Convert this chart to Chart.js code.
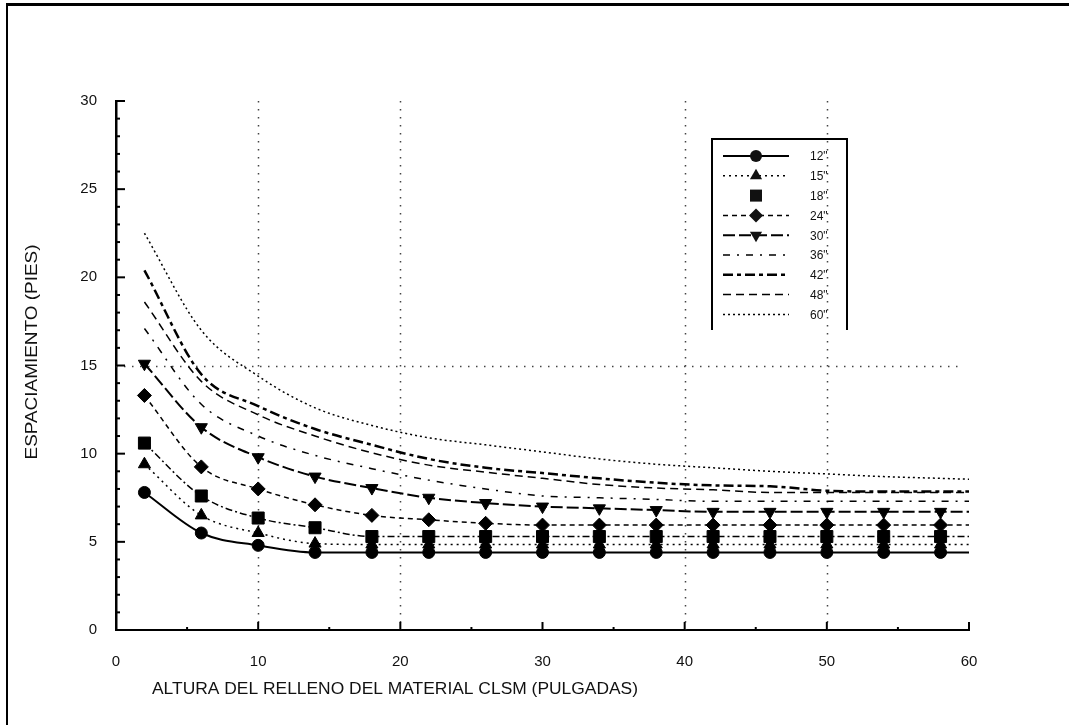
<!DOCTYPE html>
<html>
<head>
<meta charset="utf-8">
<script src="https://cdn.jsdelivr.net/npm/chart.js@4/dist/chart.umd.min.js"></script>
<style>
  html, body { margin: 0; padding: 0; background: #fff; }
  #wrap { width: 1069px; height: 725px; position: relative; }
</style>
</head>
<body>
<div id="wrap"><canvas id="grafico" width="1069" height="725"></canvas></div>
<script>
// altura del relleno (pulgadas) - marcadores cada 4", la linea llega a 60
const alturas = [2, 6, 10, 14, 18, 22, 26, 30, 34, 38, 42, 46, 50, 54, 58, 60];

// espaciamiento (pies) por diametro de tubo
const esp12 = [7.8, 5.5, 4.8, 4.4, 4.4, 4.4, 4.4, 4.4, 4.4, 4.4, 4.4, 4.4, 4.4, 4.4, 4.4, 4.4];
const esp15 = [9.4, 6.5, 5.5, 4.9, 4.85, 4.85, 4.85, 4.85, 4.85, 4.85, 4.85, 4.85, 4.85, 4.85, 4.85, 4.85];
const esp18 = [10.6, 7.6, 6.35, 5.8, 5.3, 5.3, 5.3, 5.3, 5.3, 5.3, 5.3, 5.3, 5.3, 5.3, 5.3, 5.3];
const esp24 = [13.3, 9.25, 8.0, 7.1, 6.5, 6.25, 6.05, 5.95, 5.95, 5.95, 5.95, 5.95, 5.95, 5.95, 5.95, 5.95];
const esp30 = [15.1, 11.5, 9.8, 8.7, 8.05, 7.5, 7.2, 7.0, 6.9, 6.8, 6.7, 6.7, 6.7, 6.7, 6.7, 6.7];
const esp36 = [17.1, 12.8, 11.0, 9.9, 9.15, 8.5, 8.0, 7.6, 7.5, 7.4, 7.3, 7.3, 7.3, 7.3, 7.3, 7.3];
const esp42 = [20.4, 14.5, 12.7, 11.4, 10.5, 9.7, 9.2, 8.9, 8.6, 8.35, 8.2, 8.15, 7.9, 7.85, 7.85, 7.85];
const esp48 = [18.6, 14.1, 12.2, 11.0, 10.05, 9.35, 8.95, 8.6, 8.25, 8.05, 7.95, 7.8, 7.8, 7.8, 7.8, 7.8];
const esp60 = [22.5, 17.0, 14.4, 12.6, 11.6, 10.9, 10.5, 10.1, 9.7, 9.4, 9.2, 9.0, 8.85, 8.7, 8.6, 8.55];

const ticksX = [0, 10, 20, 30, 40, 50, 60];
const ticksY = [0, 5, 10, 15, 20, 25, 30];
const rejillaX = [10, 20, 40, 50];
const rejillaY = [15];

const fuente = '"Liberation Sans", Arial, sans-serif';

function serie(label, valores, estilo) {
  return Object.assign({
    label: label,
    data: alturas.map((x, i) => ({ x: x, y: valores[i] })),
    borderColor: '#000',
    backgroundColor: '#000',
    borderWidth: 1.5,
    fill: false,
    cubicInterpolationMode: 'monotone',
    marcador: 0,
    pointRadius: c => (alturas[c.dataIndex] === 60 ? 0 : c.dataset.marcador),
    pointHoverRadius: 0,
    pointBorderWidth: 1
  }, estilo);
}

const datasets = [
  serie('12"', esp12, { borderWidth: 2, borderDash: [], pointStyle: 'circle', marcador: 6 }),
  serie('15"', esp15, { borderDash: [2, 4], pointStyle: 'triangle', marcador: 7 }),
  serie('18"', esp18, { borderDash: [7, 3, 2, 3], pointStyle: 'rect', marcador: 8.5, lineaLeyenda: false }),
  serie('24"', esp24, { borderDash: [5, 4], pointStyle: 'rectRot', marcador: 7 }),
  serie('30"', esp30, { borderWidth: 2, borderDash: [12, 4], pointStyle: 'triangle', pointRotation: 180, marcador: 7 }),
  serie('36"', esp36, { borderDash: [7, 7, 2, 7], pointStyle: 'circle' }),
  serie('42"', esp42, { borderWidth: 2.5, borderDash: [10, 4, 4, 4], pointStyle: 'circle' }),
  serie('48"', esp48, { borderDash: [8, 5], pointStyle: 'circle' }),
  serie('60"', esp60, { borderDash: [2, 3], pointStyle: 'circle' })
];

function marca(ctx, estilo, rot, r, x, y) {
  ctx.save();
  ctx.translate(x, y);
  ctx.rotate((rot || 0) * Math.PI / 180);
  ctx.setLineDash([]);
  ctx.beginPath();
  if (estilo === 'circle') {
    ctx.arc(0, 0, r, 0, Math.PI * 2);
  } else if (estilo === 'triangle') {
    ctx.moveTo(0, -r);
    ctx.lineTo(r * 0.87, r * 0.5);
    ctx.lineTo(-r * 0.87, r * 0.5);
    ctx.closePath();
  } else if (estilo === 'rect') {
    const s = r * Math.SQRT1_2;
    ctx.rect(-s, -s, 2 * s, 2 * s);
  } else if (estilo === 'rectRot') {
    ctx.moveTo(0, -r); ctx.lineTo(r, 0); ctx.lineTo(0, r); ctx.lineTo(-r, 0);
    ctx.closePath();
  }
  ctx.fill();
  ctx.restore();
}

// texto estirado a lo ancho que ocupa en el original
function textoAncho(ctx, txt, cx, cy, ancho, rot) {
  ctx.save();
  ctx.translate(cx, cy);
  if (rot) ctx.rotate(rot);
  const w = ctx.measureText(txt).width;
  ctx.scale(ancho / w, 1);
  ctx.fillText(txt, 0, 0);
  ctx.restore();
}

const decorado = {
  id: 'decorado',
  beforeDatasetsDraw(chart) {
    const { ctx, chartArea: a, scales: { x, y } } = chart;
    ctx.save();
    // rejilla punteada
    ctx.strokeStyle = '#444';
    ctx.lineWidth = 1.5;
    ctx.setLineDash([1.5, 6.5]);
    rejillaX.forEach(v => {
      const px = Math.round(x.getPixelForValue(v)) + 0.5;
      ctx.beginPath(); ctx.moveTo(px, a.top); ctx.lineTo(px, a.bottom); ctx.stroke();
    });
    rejillaY.forEach(v => {
      const py = Math.round(y.getPixelForValue(v)) + 0.5;
      ctx.beginPath(); ctx.moveTo(a.left, py); ctx.lineTo(x.getPixelForValue(59.4), py); ctx.stroke();
    });
    // marcas de los ejes, hacia adentro
    ctx.setLineDash([]);
    ctx.strokeStyle = '#000';
    ctx.lineWidth = 2;
    for (let v = 0; v <= 30; v++) {
      const py = y.getPixelForValue(v);
      const largo = v % 5 === 0 ? 9 : 4;
      ctx.beginPath(); ctx.moveTo(a.left, py); ctx.lineTo(a.left + largo, py); ctx.stroke();
    }
    for (let v = 0; v <= 60; v += 5) {
      const px = x.getPixelForValue(v);
      const largo = v % 10 === 0 ? 8 : 3;
      ctx.beginPath(); ctx.moveTo(px, a.bottom); ctx.lineTo(px, a.bottom - largo); ctx.stroke();
    }
    ctx.restore();
  },
  afterDraw(chart) {
    const ctx = chart.ctx;
    ctx.save();
    // marco exterior
    ctx.fillStyle = '#000';
    ctx.fillRect(6, 3, 1063, 3);
    ctx.fillRect(6, 3, 2, 722);
    // titulos de ejes
    ctx.fillStyle = '#111';
    ctx.font = '16px ' + fuente;
    ctx.textAlign = 'center';
    ctx.textBaseline = 'middle';
    textoAncho(ctx, 'ALTURA DEL RELLENO DEL MATERIAL CLSM (PULGADAS)', 395, 690, 486, 0);
    textoAncho(ctx, 'ESPACIAMIENTO (PIES)', 33, 352, 215, -Math.PI / 2);
    // leyenda
    ctx.strokeStyle = '#000';
    ctx.lineWidth = 2;
    ctx.beginPath();
    ctx.moveTo(712, 330); ctx.lineTo(712, 139); ctx.lineTo(847, 139); ctx.lineTo(847, 330);
    ctx.stroke();
    ctx.font = '12px ' + fuente;
    ctx.textAlign = 'left';
    chart.data.datasets.forEach((ds, i) => {
      const yy = 156 + i * 19.8;
      if (ds.lineaLeyenda !== false) {
        ctx.setLineDash(ds.borderDash || []);
        ctx.lineWidth = ds.borderWidth;
        ctx.beginPath(); ctx.moveTo(723, yy); ctx.lineTo(789, yy); ctx.stroke();
      }
      if (ds.marcador) marca(ctx, ds.pointStyle, ds.pointRotation, ds.marcador, 756, yy);
      ctx.fillText(ds.label, 810, yy + 1);
    });
    ctx.restore();
  }
};

new Chart(document.getElementById('grafico').getContext('2d'), {
  type: 'line',
  data: { datasets: datasets },
  options: {
    responsive: false,
    animation: false,
    events: [],
    layout: { padding: { top: 101, right: 100, left: 0, bottom: 0 } },
    plugins: { legend: { display: false }, tooltip: { enabled: false } },
    scales: {
      x: {
        type: 'linear', min: 0, max: 60,
        afterFit: s => { s.height = 95; },
        grid: { display: false },
        border: { display: true, color: '#000', width: 2 },
        afterBuildTicks: s => { s.ticks = ticksX.map(v => ({ value: v })); },
        ticks: { color: '#111', padding: 15, maxRotation: 0, font: { family: fuente, size: 15 } }
      },
      y: {
        type: 'linear', min: 0, max: 30,
        afterFit: s => { s.width = 116; },
        grid: { display: false },
        border: { display: true, color: '#000', width: 2.5 },
        afterBuildTicks: s => { s.ticks = ticksY.map(v => ({ value: v })); },
        ticks: { color: '#111', padding: 11, font: { family: fuente, size: 15 } }
      }
    }
  },
  plugins: [decorado]
});
</script>
</body>
</html>
